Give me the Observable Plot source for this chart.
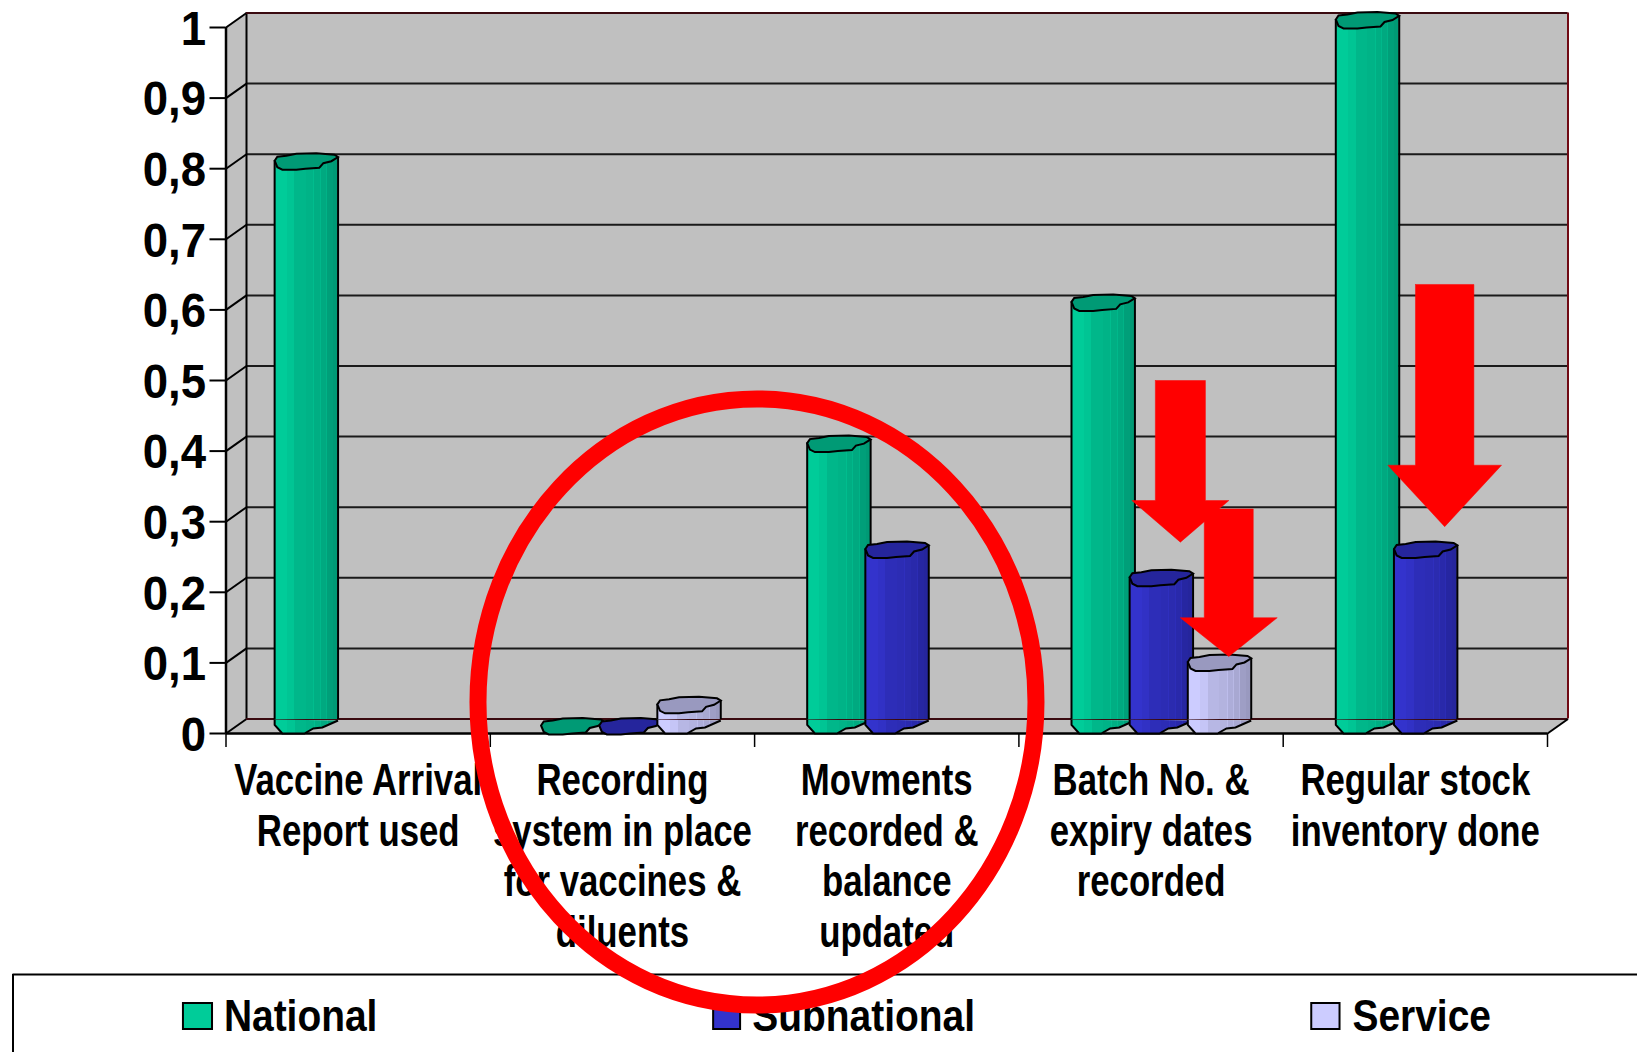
<!DOCTYPE html>
<html><head><meta charset="utf-8">
<script src="https://cdn.jsdelivr.net/npm/d3@7"></script>
<script src="https://cdn.jsdelivr.net/npm/@observablehq/plot@0.6"></script>
<style>html,body{margin:0;padding:0;background:#fff;overflow:hidden}svg{display:block}</style>
</head><body><div id="chart"></div>
<script>
const categories = [
  "Vaccine Arrival\nReport used",
  "Recording\nsystem in place\nfor vaccines &\ndiluents",
  "Movments\nrecorded &\nbalance\nupdated",
  "Batch No. &\nexpiry dates\nrecorded",
  "Regular stock\ninventory done"
];
const national = [0.8, 0, 0.4, 0.6, 1];
const subnational = [null, 0, 0.25, 0.21, 0.25];
const service = [null, 0.03, null, 0.09, null];
const seriesNames = ["National", "Subnational", "Service"];
const seriesValues = [national, subnational, service];
const seriesOffset = [0.19, 0.41, 0.63];
const categoryShift = [-0.006, 0.002, 0.009, 0.009, 0.009];
const yTicks = [0, 0.1, 0.2, 0.3, 0.4, 0.5, 0.6, 0.7, 0.8, 0.9, 1];
const frontColor = ["#00cc99", "#3333cc", "#ccccff"];
const sideColor = ["#009a75", "#25259c", "#9999bf"];
const arrows = [
  {c: 3.611, hs: 0.0947, hh: 0.1835, top: 0.5, head: 0.33, tip: 0.271},
  {c: 3.794, hs: 0.0927, hh: 0.1835, top: 0.318, head: 0.164, tip: 0.109},
  {c: 4.611, hs: 0.1105, hh: 0.2151, top: 0.636, head: 0.38, tip: 0.293}
];
const legendKeys = [[-0.161, -0.051, -0.008], [1.845, 1.947, 1.991], [4.108, 4.215, 4.262]];

const W = 1637, H = 1052, mL = 225.5, mR = 90, mT = 27, mB = 319;
const ux = 1 / ((W - mL - mR) / 5), uy = 1 / (H - mT - mB);   // one pixel in data units
const dX = 20.5 * ux, dY = 14.5 * uy, barW = 0.24;
const font = '"Liberation Sans",Arial,sans-serif';

const poly = pts => ({draw(ctx, size) {
  const k = Math.sqrt(size / Math.PI) / 30;
  pts.forEach(([a, b], i) => i ? ctx.lineTo(a * k, b * k) : ctx.moveTo(a * k, b * k));
  if (pts.closed) ctx.closePath();
}});
const capPts = [[-31.7,-1],[-29,-5],[-20,-6],[-10,-8],[10,-8.5],[28,-7],[31.7,-4.7],[25,-.5],[17,1.5],[13,6],[-1,7],[-10,8],[-24,8],[-29,5.5]];
capPts.closed = true;
const capSym = poly(capPts);
const bottomSym = poly([[-31.7,-14],[-31.7,-8.6],[-24,0],[-2,0],[7,-5],[16,-6],[31.7,-13]]);
const ellipseSym = {draw(c) {
  const rx = 279, ry = 303, k = 0.5523;
  c.moveTo(-rx, 0);
  c.bezierCurveTo(-rx, -ry*k, -rx*k, -ry, 0, -ry);
  c.bezierCurveTo(rx*k, -ry, rx, -ry*k, rx, 0);
  c.bezierCurveTo(rx, ry*k, rx*k, ry, 0, ry);
  c.bezierCurveTo(-rx*k, ry, -rx, ry*k, -rx, 0);
  c.closePath();
}};

const barMarks = [];
seriesValues.forEach((vals, s) => {
  const rows = vals.map((v, i) => {
    const x1 = i + categoryShift[i] + seriesOffset[s];
    return {v, x1, x2: x1 + barW, xc: x1 + barW / 2};
  }).filter(d => d.v !== null);
  const tall = rows.filter(d => d.v > 0);
  const grad = `url(#g${s})`;
  barMarks.push(
    Plot.rect(tall, {x1: "x1", x2: "x2", y1: 14 * uy, y2: d => d.v + 8 * uy, fill: grad}),
    Plot.rect(tall, {x1: d => d.x2 - 8 * ux, x2: "x2", y1: d => d.v + 6 * uy, y2: d => d.v + 11 * uy, fill: sideColor[s]}),
    Plot.ruleX(tall, {x: "x1", y1: 14 * uy, y2: d => d.v + 8 * uy, stroke: "#000", strokeWidth: 2}),
    Plot.ruleX(tall, {x: "x2", y1: 14 * uy, y2: d => d.v + 11 * uy, stroke: "#000", strokeWidth: 2}),
    Plot.dot(tall, {x: "xc", y: 0, r: 30, symbol: bottomSym, fill: grad, stroke: "#000", strokeWidth: 2}),
    Plot.dot(rows, {x: "xc", y: "v", dy: -7, r: 30, symbol: capSym, fill: sideColor[s], stroke: "#000", strokeWidth: 2})
  );
});

const arrowMarks = arrows.map(a => Plot.line(
  [[a.c-a.hs,a.top],[a.c+a.hs,a.top],[a.c+a.hs,a.head],[a.c+a.hh,a.head],[a.c,a.tip],[a.c-a.hh,a.head],[a.c-a.hs,a.head],[a.c-a.hs,a.top]],
  {fill: "#ff0000", stroke: "#ff0000", strokeWidth: 0.5, curve: "linear"}));

const gridY = yTicks.filter(v => v > 0 && v < 1);
const chart = Plot.plot({
  width: W, height: H,
  marginLeft: mL, marginRight: mR, marginTop: mT, marginBottom: mB,
  x: {domain: [0, 5], axis: null},
  y: {domain: [0, 1], axis: null},
  style: {background: "#fff", overflow: "hidden"},
  marks: [
    // walls
    Plot.rect([0], {x1: dX, x2: 5 + dX, y1: dY, y2: 1 + dY, fill: "#c0c0c0"}),
    Plot.line([[0,0],[dX,dY],[dX,1+dY],[0,1],[0,0]], {fill: "#c0c0c0", stroke: "none"}),
    Plot.line([[0,0],[dX,dY],[5+dX,dY],[5,0],[0,0]], {fill: "#c0c0c0", stroke: "none"}),
    Plot.ruleY(gridY, {x1: dX, x2: 5 + dX, y: d => d + dY, stroke: "#1a1a1a", strokeWidth: 2}),
    Plot.link(yTicks, {x1: 0, y1: d => d, x2: dX, y2: d => d + dY, stroke: "#000", strokeWidth: 2}),
    Plot.ruleX([dX], {y1: dY, y2: 1 + dY, stroke: "#000", strokeWidth: 2}),
    Plot.ruleY([1 + dY], {x1: 0 + dX, x2: 5 + dX, stroke: "#3a0a10", strokeWidth: 2}),
    Plot.ruleY([dY], {x1: dX, x2: 5 + dX, stroke: "#3a0a10", strokeWidth: 2}),
    Plot.ruleX([5 + dX], {y1: dY, y2: 1 + dY, stroke: "#700a14", strokeWidth: 2}),
    Plot.link([0], {x1: 5, y1: 0, x2: 5 + dX, y2: dY, stroke: "#000", strokeWidth: 2}),
    // axes
    Plot.ruleY([0], {x1: 0, x2: 5, stroke: "#000", strokeWidth: 2.5}),
    Plot.ruleX([0], {y1: 0, y2: 1, stroke: "#000", strokeWidth: 2.5}),
    Plot.ruleX(d3.range(6), {y1: 0, y2: -14 * uy, stroke: "#000", strokeWidth: 1.5}),
    Plot.axisY({ticks: yTicks, tickFormat: d => String(d).replace(".", ","), tickSize: 16, tickPadding: 4,
      fontSize: 48, fontFamily: font, fontWeight: "bold", strokeWidth: 2, stroke: "#000", fill: "#000", label: null}),
    Plot.text(categories, {x: (d, i) => i + 0.5, y: 0, dy: 26, lineAnchor: "top", lineHeight: 1.146, textAnchor: "middle",
      text: d => d, fontSize: 44, fontFamily: font, fontWeight: "bold", fill: "#000"}),
    // bars
    ...barMarks,
    // legend box
    Plot.ruleY([-241 * uy], {x1: -213 * ux, x2: 1500 * ux, stroke: "#000", strokeWidth: 2}),
    Plot.ruleX([-213 * ux], {y1: -241 * uy, y2: -330 * uy, stroke: "#000", strokeWidth: 2}),
    Plot.rect(legendKeys, {x1: d => d[0], x2: d => d[1], y1: -270 * uy, y2: -296 * uy,
      fill: (d, i) => frontColor[i], stroke: "#000", strokeWidth: 2}),
    Plot.text(legendKeys, {x: d => d[2], y: -283 * uy, text: (d, i) => seriesNames[i], textAnchor: "start",
      fontSize: 44, fontFamily: font, fontWeight: "bold", fill: "#000"}),
    // annotations
    ...arrowMarks,
    Plot.dot([0], {x: 2.009, y: 0.0446, r: 30, symbol: ellipseSym, fill: "none", stroke: "#ff0000", strokeWidth: 17})
  ]
});

// the original lettering is condensed
d3.select(chart).selectAll("text").attr("transform", function () {
  const t = this.textContent, base = this.getAttribute("transform") || "";
  if (seriesNames.includes(t)) return base + " scale(0.885,1)";
  if (/^[\d,]+$/.test(t)) return base + " translate(0,2) scale(0.95,1)";
  return base + " scale(0.79,1)";
});

// cylinder shading
const svg = d3.select(chart);
const defs = svg.insert("defs", ":first-child");
frontColor.forEach((c, s) => {
  const g = defs.append("linearGradient").attr("id", `g${s}`).attr("x1", 0).attr("x2", 1).attr("y1", 0).attr("y2", 0);
  const mix = d3.interpolateRgb(c, sideColor[s]);
  const bands = [[0, .2, 0], [.2, .32, .14], [.32, .5, .42], [.5, .62, .5], [.62, .635, .3], [.635, .72, .6], [.72, .735, .4],
    [.735, .82, .7], [.82, .835, .5], [.835, .93, .9], [.93, 1, 1]];
  bands.forEach(([a, b, t]) => {
    g.append("stop").attr("offset", a).attr("stop-color", mix(t));
    g.append("stop").attr("offset", b).attr("stop-color", mix(t));
  });
});
document.getElementById("chart").append(chart);
</script>
</body></html>
